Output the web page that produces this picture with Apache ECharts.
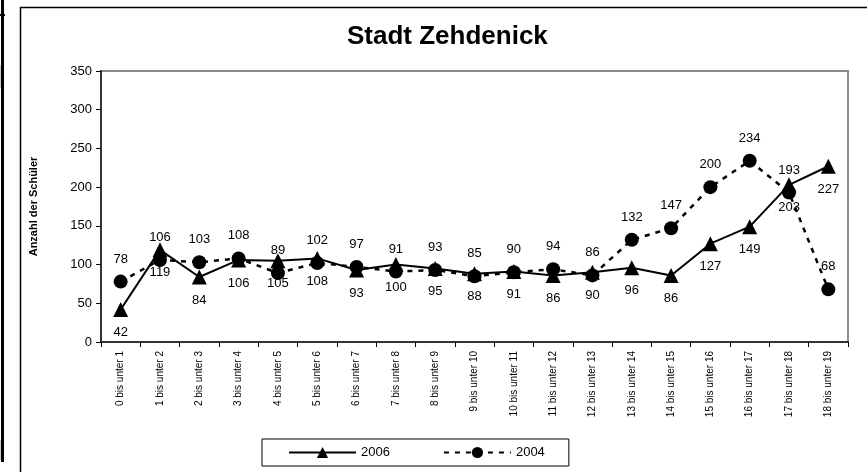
<!DOCTYPE html>
<html>
<head>
<meta charset="utf-8">
<script src="https://cdn.jsdelivr.net/npm/echarts@6/dist/echarts.min.js"></script>
<style>
  html, body { margin: 0; padding: 0; background: #fff; }
  #chart { width: 867px; height: 472px; }
</style>
</head>
<body>
<div id="chart"></div>
<script>
// Altersgruppen
var categories = [
  "0 bis unter 1", "1 bis unter 2", "2 bis unter 3", "3 bis unter 4", "4 bis unter 5",
  "5 bis unter 6", "6 bis unter 7", "7 bis unter 8", "8 bis unter 9", "9 bis unter 10",
  "10 bis unter 11", "11 bis unter 12", "12 bis unter 13", "13 bis unter 14", "14 bis unter 15",
  "15 bis unter 16", "16 bis unter 17", "17 bis unter 18", "18 bis unter 19"
];
var values2006 = [42, 119, 84, 106, 105, 108, 93, 100, 95, 88, 91, 86, 90, 96, 86, 127, 149, 203, 227];
var values2004 = [78, 106, 103, 108, 89, 102, 97, 91, 93, 85, 90, 94, 86, 132, 147, 200, 234, 193, 68];
var yTicks = [0, 50, 100, 150, 200, 250, 300, 350];

var chart = echarts.init(document.getElementById("chart"));
window.addEventListener("resize", function () {
  chart.resize();
});

var font = "Arial, 'Liberation Sans', Helvetica, sans-serif";

var option = {
  animation: false,
  textStyle: { fontFamily: font, color: "#000" },
  title: {
    text: "Stadt Zehdenick",
    left: 347,
    top: 24,
    padding: 0,
    textStyle: { fontSize: 26, fontWeight: "bold", color: "#000", fontFamily: font }
  },
  legend: {
    left: 262,
    top: 439,
    padding: [7, 24, 7, 26],
    itemGap: 53,
    itemWidth: 67,
    itemHeight: 14,
    borderColor: "#000",
    borderWidth: 1,
    textStyle: { fontSize: 13, color: "#000", fontFamily: font },
    data: ["2006", "2004"]
  },
  grid: {
    left: 101,
    right: 19,
    top: 71,
    bottom: 130,
    show: true,
    borderColor: "#8c8c8c",
    borderWidth: 2,
    backgroundColor: "#fff"
  },
  xAxis: {
    type: "category",
    data: categories,
    boundaryGap: true,
    axisLine: { lineStyle: { color: "#333", width: 2 } },
    axisTick: { show: true, length: 5, lineStyle: { color: "#000", width: 1 } },
    axisLabel: { rotate: 90, interval: 0, fontSize: 10, margin: 9, color: "#000", fontFamily: font },
    splitLine: { show: false }
  },
  yAxis: {
    type: "value",
    min: yTicks[0],
    max: yTicks[yTicks.length - 1],
    interval: 50,
    name: "Anzahl der Schüler",
    nameLocation: "middle",
    nameRotate: 90,
    nameGap: 62,
    nameTextStyle: { fontSize: 11, fontWeight: "bold", color: "#000", fontFamily: font },
    axisLine: { show: true, lineStyle: { color: "#333", width: 2 } },
    axisTick: { show: true, length: 5, lineStyle: { color: "#000", width: 1 } },
    axisLabel: { fontSize: 13, margin: 9, color: "#000", fontFamily: font },
    splitLine: { show: false }
  },
  series: [
    {
      name: "2006",
      type: "line",
      data: values2006,
      symbol: "triangle",
      symbolSize: 15,
      itemStyle: { color: "#000" },
      lineStyle: { color: "#000", width: 2, type: "solid" },
      label: {
        show: true,
        position: "bottom",
        distance: 9,
        fontSize: 13,
        color: "#000",
        fontFamily: font
      },
      z: 3
    },
    {
      name: "2004",
      type: "line",
      data: values2004,
      symbol: "circle",
      symbolSize: 14,
      itemStyle: { color: "#000" },
      lineStyle: { color: "#000", width: 2.5, type: [5, 6] },
      label: {
        show: true,
        position: "top",
        distance: 9,
        fontSize: 13,
        color: "#000",
        fontFamily: font
      },
      z: 2
    }
  ],
  graphic: [
    // Rahmen des Diagramms
    { type: "rect", shape: { x: 20.5, y: 7.5, width: 900, height: 500 },
      style: { fill: null, stroke: "#000", lineWidth: 1.5 }, z: 100 },
    // Reste am linken Rand
    { type: "rect", shape: { x: 1, y: 0, width: 3, height: 462 }, style: { fill: "#000" }, z: 100 },
    { type: "rect", shape: { x: 0, y: 14, width: 5, height: 2 }, style: { fill: "#000" }, z: 100 },
    { type: "rect", shape: { x: 0, y: 65, width: 1, height: 23 }, style: { fill: "#c8c8c8" }, z: 100 },
    { type: "rect", shape: { x: 0, y: 440, width: 1, height: 20 }, style: { fill: "#c8c8c8" }, z: 100 }
  ]
};

chart.setOption(option);
</script>
</body>
</html>
